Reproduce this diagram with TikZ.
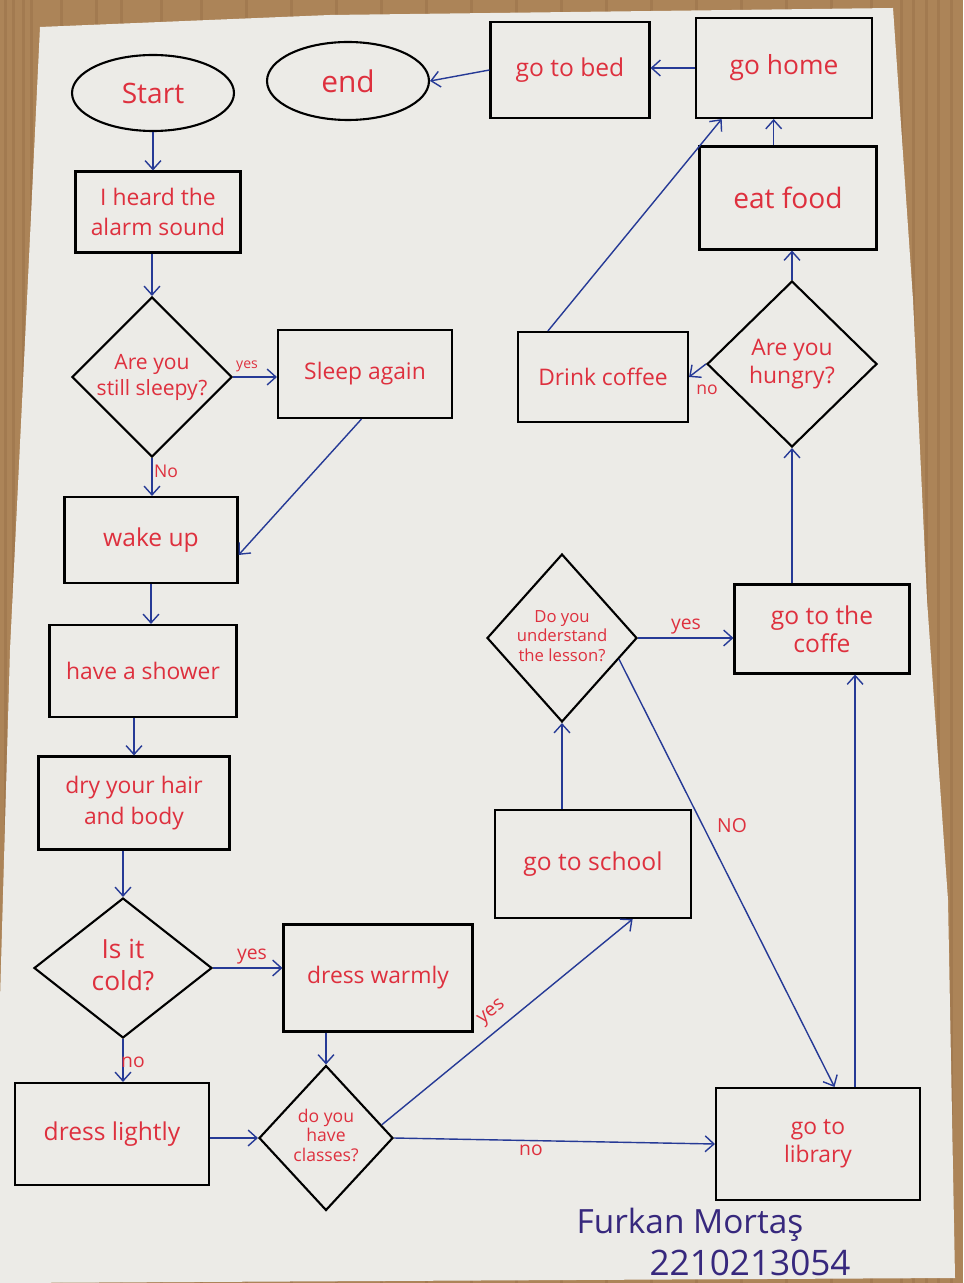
\documentclass[tikz,border=0pt]{standalone}
\usepackage{fontspec}
\setmainfont{Open Sans}
\usetikzlibrary{shapes.geometric, arrows.meta, calc}
\definecolor{ink}{RGB}{222,48,62}
\definecolor{pen}{RGB}{38,58,150}
\definecolor{sig}{RGB}{55,40,125}
\definecolor{paper}{RGB}{236,235,231}
\definecolor{wood}{RGB}{172,132,88}
\definecolor{wooddark}{RGB}{140,100,62}
\newcommand{\dtext}[1]{\makebox[0pt]{\begin{tabular}{@{}c@{}}#1\end{tabular}}}
\newcommand{\fs}[2]{\fontsize{#1}{#2}\selectfont}
\tikzset{
  box/.style={draw=black, line width=1.2pt, rectangle, text=ink, align=center, inner sep=2pt},
  term/.style={draw=black, line width=1.2pt, ellipse, text=ink, inner sep=0pt},
  dia/.style={draw=black, line width=1.2pt, diamond, text=ink, inner sep=0pt},
  arr/.style={draw=pen, line width=0.8pt, -{Straight Barb[length=5pt,width=9pt]}},
  lbl/.style={text=ink, font=\fs{10}{12}, inner sep=1pt},
}
\begin{document}
\begin{tikzpicture}[x=0.02cm, y=-0.02cm]
\useasboundingbox (0,0) rectangle (963,1283);
% background: wood and paper
\fill[wood] (0,0) rectangle (963,1283);
\foreach \xx in {4,12,22,30,60,95,120,160,200,245,290,335,380,425,470,515,560,605,650,695,740,785,830,870,900,912,925,937,950} {
  \fill[wooddark, opacity=0.3] (\xx,0) rectangle (\xx+3,1283);
}
\fill[paper] (40,27) -- (330,15) -- (893,8) -- (913,300) -- (927,600) -- (948,900) -- (955,1278) -- (0,1283) -- (0,1000) -- (10,650) -- (27,300) -- cycle;

% nodes
\node[term, minimum width=3.24cm, minimum height=1.52cm, font=\fs{16}{19}] (start) at (153,93) {Start};
\node[term, minimum width=3.24cm, minimum height=1.56cm, font=\fs{17}{20}] (end) at (348,81) {end};
\node[box, minimum width=3.18cm, minimum height=1.92cm, font=\fs{14}{17}] (bed) at (570,70) {go to bed};
\node[box, minimum width=3.52cm, minimum height=2.00cm, font=\fs{15}{18}] (home) at (784,68) {go home};
\node[box, minimum width=3.54cm, minimum height=2.06cm, font=\fs{16}{19}] (eat) at (788,198) {eat food};
\node[box, minimum width=3.30cm, minimum height=1.62cm, font=\fs{13}{17}] (alarm) at (158,212) {I heard the\\alarm sound};
\node[dia, minimum width=3.20cm, minimum height=3.20cm, font=\fs{12}{15}] (sleepy) at (152,377) {\dtext{Are you\\still sleepy?}};
\node[box, minimum width=3.48cm, minimum height=1.76cm, font=\fs{13}{16}] (again) at (365,374) {Sleep again};
\node[box, minimum width=3.46cm, minimum height=1.72cm, font=\fs{14}{17}] (wake) at (151,540) {wake up};
\node[box, minimum width=3.74cm, minimum height=1.84cm, font=\fs{13}{16}] (shower) at (143,671) {have a shower};
\node[box, minimum width=3.82cm, minimum height=1.86cm, font=\fs{13}{18}] (dry) at (134,803) {dry your hair\\and body};
\node[dia, minimum width=3.56cm, minimum height=2.80cm, font=\fs{15}{18}] (cold) at (123,968) {\dtext{Is it\\cold?}};
\node[box, minimum width=3.78cm, minimum height=2.14cm, font=\fs{13}{16}] (warm) at (378,978) {dress warmly};
\node[box, minimum width=3.88cm, minimum height=2.04cm, font=\fs{14}{17}] (light) at (112,1134) {dress lightly};
\node[dia, minimum width=2.68cm, minimum height=2.90cm, font=\fs{10}{11}] (classes) at (326,1138) {\dtext{do you\\have\\classes?}};
\node[box, minimum width=4.08cm, minimum height=2.24cm, font=\fs{13}{16}] (library) at (818,1144) {go to\\library};
\node[box, minimum width=3.92cm, minimum height=2.16cm, font=\fs{14}{17}] (school) at (593,864) {go to school};
\node[dia, minimum width=3.00cm, minimum height=3.36cm, font=\fs{9.5}{11}] (understand) at (562,638) {\dtext{Do you\\understand\\the lesson?}};
\node[box, minimum width=3.50cm, minimum height=1.78cm, font=\fs{14}{16}] (coffe) at (822,629) {go to the\\coffe};
\node[dia, minimum width=3.40cm, minimum height=3.32cm, font=\fs{13}{16}] (hungry) at (792,364) {\dtext{Are you\\hungry?}};
\node[box, minimum width=3.40cm, minimum height=1.80cm, font=\fs{13}{16}] (drink) at (603,377) {Drink coffee};

% connectors
\draw[arr] (start.south) -- (start.south |- alarm.north);
\draw[arr] (sleepy.north |- alarm.south) -- (sleepy.north);
\draw[arr] (sleepy.east) -- (sleepy.east -| again.west);
\draw[arr] (sleepy.south) -- (sleepy.south |- wake.north);
\draw[arr] ($(again.south west)!0.48!(again.south east)$) -- ($(wake.north east)!0.67!(wake.south east)$);
\draw[arr] (wake.south) -- (wake.south |- shower.north);
\draw[arr] (dry.north |- shower.south) -- (dry.north);
\draw[arr] (cold.north |- dry.south) -- (cold.north);
\draw[arr] (cold.east) -- (cold.east -| warm.west);
\draw[arr] (cold.south) -- (cold.south |- light.north);
\draw[arr] (classes.north |- warm.south) -- (classes.north);
\draw[arr] (classes.west -| light.east) -- (classes.west);
\draw[arr] (classes.east) -- (library.west);
\draw[arr] ($(classes.north)!0.82!(classes.east)$) -- ($(school.south west)!0.7!(school.south east)$);
\draw[arr] (understand.south |- school.north) -- (understand.south);
\draw[arr] (understand.east) -- (understand.east -| coffe.west);
\draw[arr] ($(understand.east)!0.25!(understand.south)$) -- ($(library.north west)!0.58!(library.north east)$);
\coordinate (libtop) at ($(library.north west)!0.68!(library.north east)$);
\draw[arr] (libtop) -- (libtop |- coffe.south);
\draw[arr] (hungry.south |- coffe.north) -- (hungry.south);
\draw[arr] (hungry.west) -- (drink.east);
\draw[arr] (hungry.north) -- (hungry.north |- eat.south);
\coordinate (eattop) at ($(eat.north west)!0.42!(eat.north east)$);
\draw[arr] (eattop) -- (eattop |- home.south);
\draw[arr] ($(drink.north west)!0.18!(drink.north east)$) -- ($(home.south west)!0.15!(home.south east)$);
\draw[arr] (home.west) -- (home.west -| bed.east);
\draw[arr] (bed.west) -- (end.east);

% connector labels
\node[lbl, font=\fs{8}{10}] (l1) at (247,366) {yes};
\node[lbl] (l2) at (166,471) {No};
\node[lbl, font=\fs{11}{13}] (l3) at (252,957) {yes};
\node[lbl, font=\fs{11}{13}] (l4) at (133,1062) {no};
\node[lbl, font=\fs{11}{13}, rotate=39] (l5) at (492,1013) {yes};
\node[lbl, font=\fs{11}{13}] (l6) at (531,1150) {no};
\node[lbl, font=\fs{11}{13}] (l7) at (686,627) {yes};
\node[lbl, font=\fs{11}{13}] (l8) at (732,826) {NO};
\node[lbl] (l9) at (707,390) {no};

% signature
\node[text=sig, font=\fs{19}{22}] (sig1) at (690,1225) {Furkan Mortaş};
\node[text=sig, font=\fs{20}{24}] (sig2) at (750,1263) {2210213054};
\end{tikzpicture}
\end{document}
